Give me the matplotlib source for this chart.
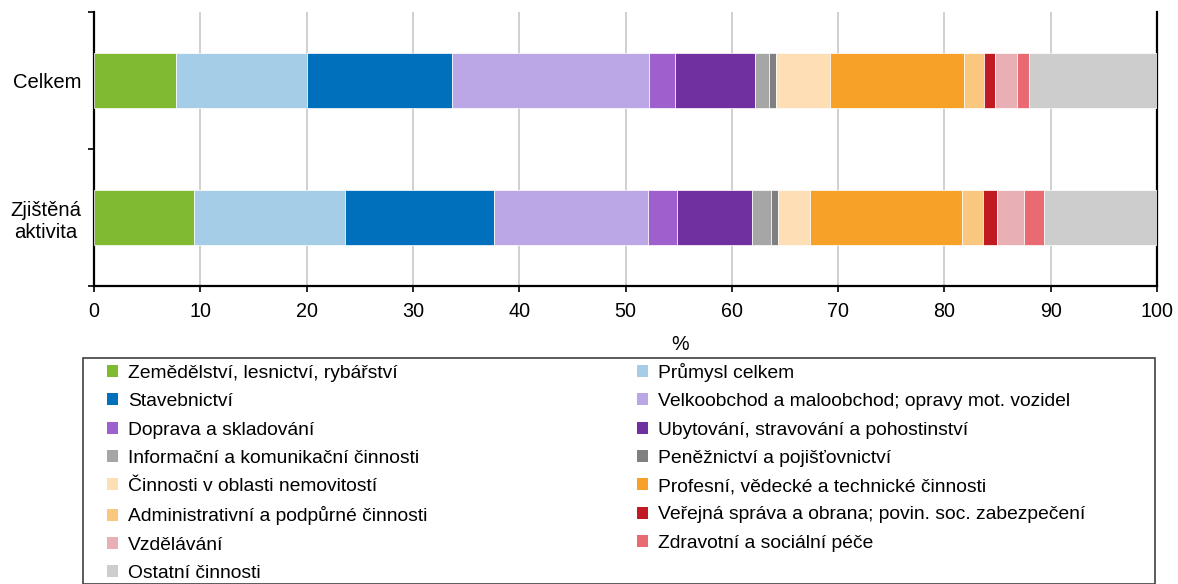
import matplotlib
matplotlib.use("Agg")
import matplotlib.pyplot as plt
from matplotlib.patches import Rectangle, Patch
import numpy as np

plt.rcParams['font.family'] = ['Liberation Sans', 'DejaVu Sans']

categories = ["Celkem", "Zjištěná\naktivita"]
sectors = [
    "Zemědělství, lesnictví, rybářství",
    "Průmysl celkem",
    "Stavebnictví",
    "Velkoobchod a maloobchod; opravy mot. vozidel",
    "Doprava a skladování",
    "Ubytování, stravování a pohostinství",
    "Informační a komunikační činnosti",
    "Peněžnictví a pojišťovnictví",
    "Činnosti v oblasti nemovitostí",
    "Profesní, vědecké a technické činnosti",
    "Administrativní a podpůrné činnosti",
    "Veřejná správa a obrana; povin. soc. zabezpečení",
    "Vzdělávání",
    "Zdravotní a sociální péče",
    "Ostatní činnosti",
]
celkem = [7.69, 12.35, 13.64, 18.52, 2.46, 7.54, 1.27, 0.66, 5.11, 12.63, 1.83, 1.06, 2.04, 1.19, 12.01]
zjistena = [9.41, 14.17, 14.05, 14.49, 2.69, 7.12, 1.73, 0.69, 3.03, 14.28, 1.97, 1.29, 2.60, 1.88, 10.60]
colors = ["#7FBA30", "#A6CDE8", "#0070BC", "#BBA7E5", "#9E60CD", "#7030A0",
          "#A6A6A6", "#808080", "#FDDEB5", "#F7A128", "#FAC77F", "#C01B23",
          "#E8AFB4", "#EA6A73", "#CDCDCD"]
xticks = list(range(0, 101, 10))

W, H = 1178, 584
fig = plt.figure(figsize=(W / 100, H / 100), dpi=100)
ax = fig.add_axes([94 / W, 1 - 286 / H, (1157 - 94) / W, (286 - 12) / H])

data = np.array([celkem, zjistena])
ypos = np.arange(len(categories))
left = np.zeros(len(categories))
for i, name in enumerate(sectors):
    ax.barh(ypos, data[:, i], left=left, height=0.4, color=colors[i],
            edgecolor="white", linewidth=0.5, label=name, zorder=3)
    left += data[:, i]

ax.set_xlim(0, 100)
ax.set_ylim(1.5, -0.5)
ax.set_xticks(xticks)
ax.set_xticklabels([str(v) for v in xticks])
ax.set_yticks(ypos)
ax.set_yticklabels(categories, multialignment="center", linespacing=1.2)
ax.set_yticks([-0.5, 0.5, 1.5], minor=True)
ax.tick_params(axis="y", which="major", length=0, pad=9, labelsize=14.6)
ax.tick_params(axis="y", which="minor", length=4.5, width=1.2, color="black")
ax.tick_params(axis="x", which="major", length=4.5, width=1.2, pad=7, labelsize=14.2)
ax.grid(axis="x", color="#C8C8C8", linewidth=1.2, zorder=0)
ax.set_axisbelow(True)
for s in ["left", "bottom", "right"]:
    ax.spines[s].set_linewidth(1.6)
    ax.spines[s].set_color("black")
ax.spines["top"].set_visible(False)

fig.text(680 / W, 1 - 345 / H, "%", ha="center", va="center", fontsize=14.2)

handles = [Patch(facecolor=c, edgecolor="none") for c in colors]
order = list(range(0, 15, 2)) + list(range(1, 15, 2))
leg = fig.legend([handles[i] for i in order], [sectors[i] for i in order],
                 ncol=2, loc="upper left", bbox_to_anchor=(107 / W, 1 - 363 / H),
                 frameon=False, fontsize=13.9, handlelength=0.58, handleheight=0.58,
                 handletextpad=0.52, labelspacing=0.585, columnspacing=10.85,
                 borderpad=0, borderaxespad=0)
fig.patches.append(Rectangle((83 / W, 0.5 / H), (1155 - 83) / W, (584 - 358 - 0.5) / H,
                             transform=fig.transFigure, fill=False,
                             edgecolor="#404040", linewidth=1.2))

fig.savefig("out.png", dpi=100)
